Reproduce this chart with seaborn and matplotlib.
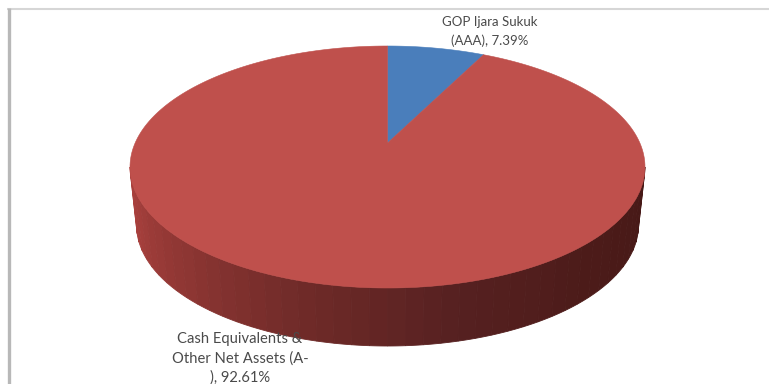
import numpy as np
import matplotlib
matplotlib.use("Agg")
import matplotlib.pyplot as plt
import seaborn as sns

categories = ["GOP Ijara Sukuk\n(AAA), 7.39%", "Cash Equivalents &\nOther Net Assets (A-\n), 92.61%"]
shares = [7.39, 92.61]
slice_colors = ["#4A7EBB", "#BF504C"]
side_shades = ["#AD423F", "#8E3633", "#6E2A28", "#552020", "#4C1B19", "#471917"]

sns.set_theme(style="white")
plt.rcParams["font.family"] = ["Lato", "DejaVu Sans"]

W, H = 769, 384
fig = plt.figure(figsize=(W / 100, H / 100), dpi=100, facecolor="white")
ax = fig.add_axes([0, 0, 1, 1])
ax.set_xlim(0, W)
ax.set_ylim(H, 0)
ax.axis("off")

# Disc geometry on the canvas, in pixels
CX, TOP_CY, TOP_RX, RY = 387.5, 167, 257.5, 121
BASE_CY, BASE_RX = 225, 251
TILT = 0.198  # shifts the slice apex up the face, as perspective does


def project(theta):
    """Map clockwise-from-north angles on the unit circle onto the tilted top face."""
    u, v = np.sin(theta), np.cos(theta)
    d = 1 + TILT * v
    return u * np.sqrt(1 - TILT**2) / d, (v + TILT) / d


def rim(cy, rx, theta):
    return CX + rx * np.sin(theta), cy - RY * np.cos(theta)


# Outer wall: narrow strips around the front half, shaded from left to right
wall_cmap = sns.blend_palette(side_shades, n_colors=44)
edges = np.linspace(3 * np.pi / 2, np.pi / 2, len(wall_cmap) + 1)
for a0, a1, shade in zip(edges[:-1], edges[1:], wall_cmap):
    t = np.linspace(a0, a1, 8)
    xt, yt = rim(TOP_CY, TOP_RX, t)
    xb, yb = rim(BASE_CY, BASE_RX, t)
    ax.fill(np.r_[xt, xb[::-1]], np.r_[yt, yb[::-1]], color=shade, lw=0.6, zorder=1)

# Top face: one polygon per share, clockwise from twelve o'clock
apex = (CX, TOP_CY - RY * TILT)
bounds = 2 * np.pi * np.cumsum([0] + shares) / sum(shares)
for a0, a1, color in zip(bounds[:-1], bounds[1:], slice_colors):
    t = np.linspace(a0, a1, 300)
    u, v = project(t)
    ax.fill(np.r_[apex[0], CX + TOP_RX * u], np.r_[apex[1], TOP_CY - RY * v],
            color=color, lw=0.4, zorder=2)

# Chart frame, open towards the right and bottom edges
ax.plot([7, W], [9, 9], color="#D6D6D6", lw=1.5, zorder=0, solid_capstyle="butt")
ax.plot([8.7, 8.7], [8, H], color="#B8B8B8", lw=2.4, zorder=0, solid_capstyle="butt")

label_style = dict(ha="center", va="center", color="#4A4A4A", zorder=3)
ax.text(490, 31.5, categories[0], fontsize=9.5, linespacing=1.62, **label_style)
ax.text(240, 358.5, categories[1], fontsize=10.6, linespacing=1.45, **label_style)

fig.savefig("out.png", dpi=100)
